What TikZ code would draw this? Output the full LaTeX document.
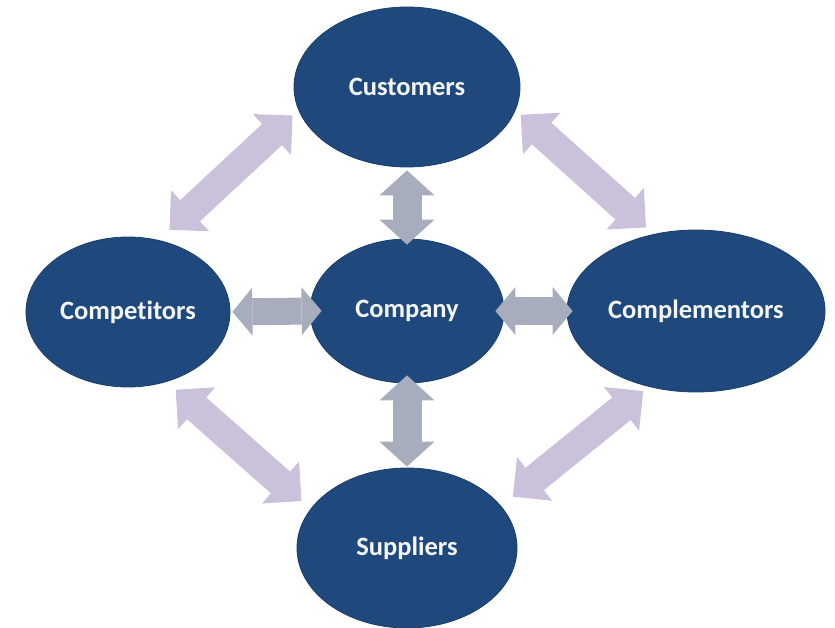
\documentclass[tikz,border=0pt]{standalone}
\usepackage{fontspec}
\setmainfont{Carlito}[Ligatures=NoCommon]
\usetikzlibrary{arrows.meta,positioning,shapes}

\definecolor{partyblue}{RGB}{31,73,125}
\definecolor{linkgray}{RGB}{167,173,189}
\definecolor{linklilac}{RGB}{204,193,218}

\begin{document}
\begin{tikzpicture}[x=1pt,y=-1pt,node distance=224pt]

\tikzstyle{party}=[ellipse,fill=partyblue,draw=partyblue!85!black,line width=0.8pt,text=white!95!partyblue,inner sep=0pt,font=\fontsize{26.5}{30}\selectfont\bfseries]
\tikzstyle{link}=[draw=linkgray,line width=29pt,{Triangle[length=25pt,width=55pt,line width=0pt]}-{Triangle[length=25pt,width=55pt,line width=0pt]}]
\tikzstyle{flatlink}=[draw=linkgray,line width=27pt,{Triangle[length=20pt,width=48pt,line width=0pt]}-{Triangle[length=20pt,width=48pt,line width=0pt]}]
\tikzstyle{ring}=[draw=linklilac,line width=29pt,{Triangle[length=28pt,width=56pt,line width=0pt]}-{Triangle[length=28pt,width=56pt,line width=0pt]}]

\useasboundingbox (0,0) rectangle (835,628);

%company in the middle
\node [party,minimum width=194pt,minimum height=144pt] (comp) at (407,311) {Company};

%the four forces round it
\node [party,minimum width=226pt,minimum height=160pt] (cust) [above of=comp] {Customers};
\node [party,minimum width=220pt,minimum height=160pt,node distance=237pt] (supp) [below of=comp] {Suppliers};
\node [party,minimum width=204pt,minimum height=150pt,node distance=279pt] (rival) [left of=comp,yshift=-1pt] {Competitors};
\node [party,minimum width=258pt,minimum height=162pt,node distance=289pt] (compl) [right of=comp] {Complementors};

%links to the company
\path (cust.south) edge [link,shorten <=3pt,shorten >=-6pt] (comp.north)
      (comp.south) edge [link,shorten <=-8pt,shorten >=1pt] (supp.north)
      (rival.east) edge [flatlink,shorten <=2pt,shorten >=-12pt] (comp.west)
      (comp.east) edge [flatlink,shorten <=-9pt,shorten >=-6pt] (compl.west);

%outer ring
\path (cust.192) edge [ring,shorten <=8pt,shorten >=15pt] (rival.67)
      (cust.348) edge [ring,shorten <=7pt,shorten >=10pt] (compl.119)
      (rival.299) edge [ring,shorten <=12pt,shorten >=12pt] (supp.158)
      (compl.238) edge [ring,shorten <=7pt,shorten >=15pt] (supp.24);

\end{tikzpicture}
\end{document}
